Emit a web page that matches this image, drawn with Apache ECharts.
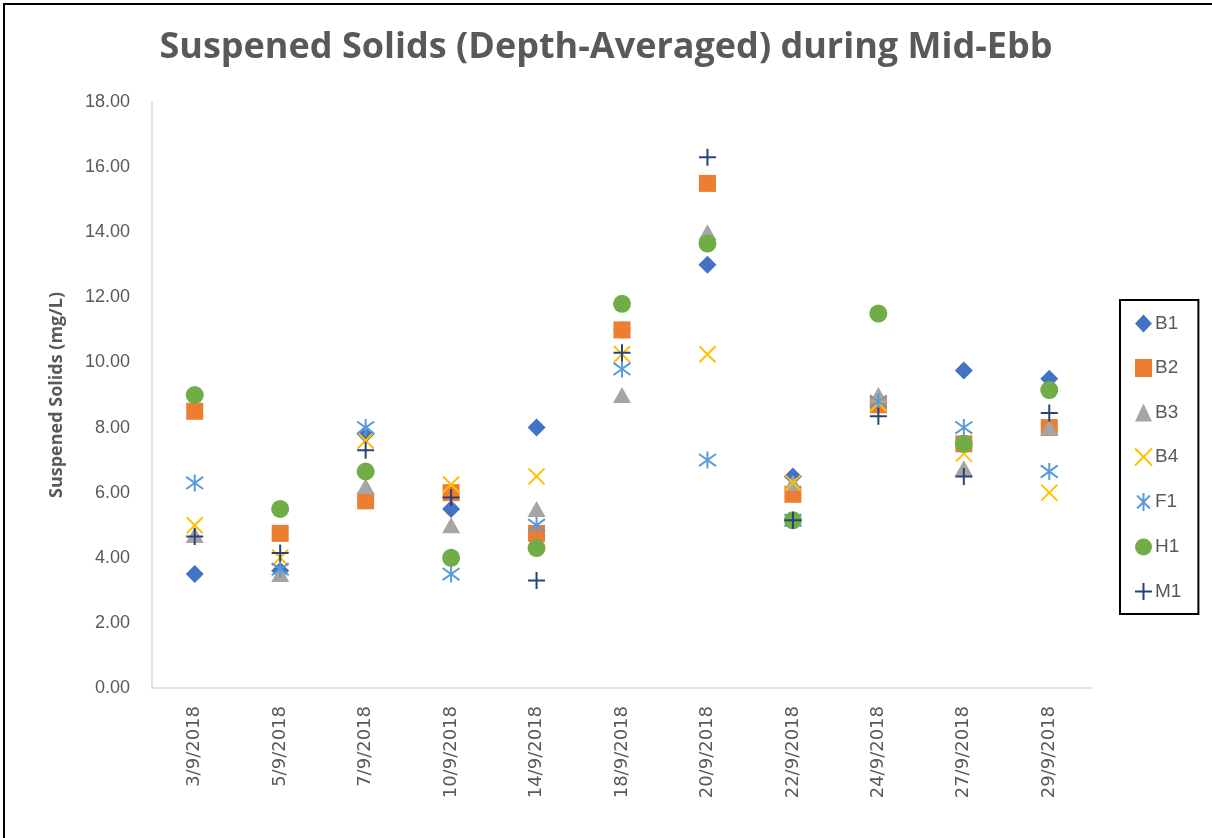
<!DOCTYPE html>
<html>
	<head>
		<meta charset="utf-8">
		<title>Suspened Solids (Depth-Averaged) during Mid-Ebb</title>
		<script src="https://cdn.jsdelivr.net/npm/echarts@6.0.0/dist/echarts.min.js"></script>
		<style>
			html, body { margin: 0; padding: 0; background: #fff; }
			#main { width: 1212px; height: 838px; }
		</style>
	</head>
<body>
	<div id="main"></div>

	<script>
		// dates on the x axis
		var dates = ['3/9/2018', '5/9/2018', '7/9/2018', '10/9/2018', '14/9/2018', '18/9/2018',
			'20/9/2018', '22/9/2018', '24/9/2018', '27/9/2018', '29/9/2018'];

		// suspended solids (mg/L), one list per station
		var B1 = [3.5, 3.6, 7.8, 5.5, 8.0, 11.0, 13.0, 6.5, 8.75, 9.75, 9.5];
		var B2 = [8.5, 4.75, 5.75, 6.0, 4.75, 11.0, 15.5, 5.95, 8.7, 7.5, 8.0];
		var B3 = [4.7, 3.5, 6.2, 5.0, 5.5, 9.0, 14.0, 6.3, 9.0, 6.75, 8.0];
		var B4 = [5.0, 4.0, 7.6, 6.25, 6.5, 10.25, 10.25, 6.3, 8.75, 7.2, 6.0];
		var F1 = [6.3, 3.65, 8.0, 3.5, 5.0, 9.8, 7.0, 5.15, 8.8, 8.0, 6.65];
		var H1 = [9.0, 5.5, 6.65, 4.0, 4.3, 11.8, 13.65, 5.15, 11.5, 7.5, 9.15];
		var M1 = [4.65, 4.15, 7.3, 5.85, 3.3, 10.3, 16.3, 5.15, 8.35, 6.5, 8.45];

		var gray = '#595959';

		// line-only markers
		var xMark = 'path://M0,0L10,10M10,0L0,10';
		var starMark = 'path://M0,0L10,10M10,0L0,10M5,-2L5,12';
		var plusMark = 'path://M5,0L5,10M0,5L10,5';

		function filled(name, data, symbol, size, color) {
			return {
				name: name, type: 'scatter', data: data,
				symbol: symbol, symbolSize: size,
				itemStyle: { color: color, opacity: 1 }
			};
		}
		function stroked(name, data, symbol, size, color) {
			return {
				name: name, type: 'scatter', data: data,
				symbol: symbol, symbolSize: size,
				itemStyle: { color: 'rgba(0,0,0,0)', borderColor: color, borderWidth: 2, opacity: 1 }
			};
		}

		var chart = echarts.init(document.getElementById('main'));

		var option = {
			animation: false,
			title: {
				text: 'Suspened Solids (Depth-Averaged) during Mid-Ebb',
				left: 'center',
				top: 25,
				textStyle: { fontFamily: 'Open Sans', fontSize: 36, fontWeight: 'bold', color: gray }
			},
			graphic: [{
				type: 'rect',
				shape: { x: 4, y: 4, width: 1230, height: 860 },
				style: { fill: 'none', stroke: '#000', lineWidth: 2 },
				silent: true
			}],
			legend: {
				orient: 'vertical',
				left: 1120,
				top: 300,
				width: 60,
				padding: [14, 17, 13, 14],
				itemGap: 25.5,
				itemWidth: 17,
				itemHeight: 18,
				borderColor: '#000',
				borderWidth: 2,
				textStyle: { fontFamily: 'Liberation Sans', fontSize: 19, color: gray, padding: [0, 0, 0, -2] },
				data: ['B1', 'B2', 'B3', 'B4', 'F1', 'H1', 'M1']
			},
			grid: { left: 152, right: 120, top: 102, bottom: 150 },
			xAxis: {
				type: 'category',
				data: dates,
				axisLine: { lineStyle: { color: '#d9d9d9', width: 1.5 } },
				axisTick: { show: false },
				axisLabel: { rotate: 90, margin: 18, fontFamily: 'DejaVu Sans', fontSize: 18, color: gray },
				splitLine: { show: false }
			},
			yAxis: {
				type: 'value',
				min: 0, max: 18, interval: 2,
				name: 'Suspened Solids (mg/L)',
				nameLocation: 'middle',
				nameGap: 86,
				nameTextStyle: { fontFamily: 'Open Sans', fontSize: 18, fontWeight: 'bold', color: gray },
				axisLine: { show: true, lineStyle: { color: '#d9d9d9', width: 1.5 } },
				axisTick: { show: false },
				splitLine: { show: false },
				axisLabel: {
					margin: 22, fontFamily: 'Liberation Sans', fontSize: 18, color: gray,
					formatter: function (v) { return v.toFixed(2); }
				}
			},
			series: [
				filled('B1', B1, 'diamond', 18, '#4472C4'),
				filled('B2', B2, 'rect', 17, '#ED7D31'),
				filled('B3', B3, 'triangle', [18, 16], '#A5A5A5'),
				stroked('B4', B4, xMark, 16, '#FFC000'),
				stroked('F1', F1, starMark, 17, '#5B9BD5'),
				filled('H1', H1, 'circle', 18, '#70AD47'),
				stroked('M1', M1, plusMark, 17, '#264478')
			]
		};

		chart.setOption(option);
	</script>
</body>
</html>
